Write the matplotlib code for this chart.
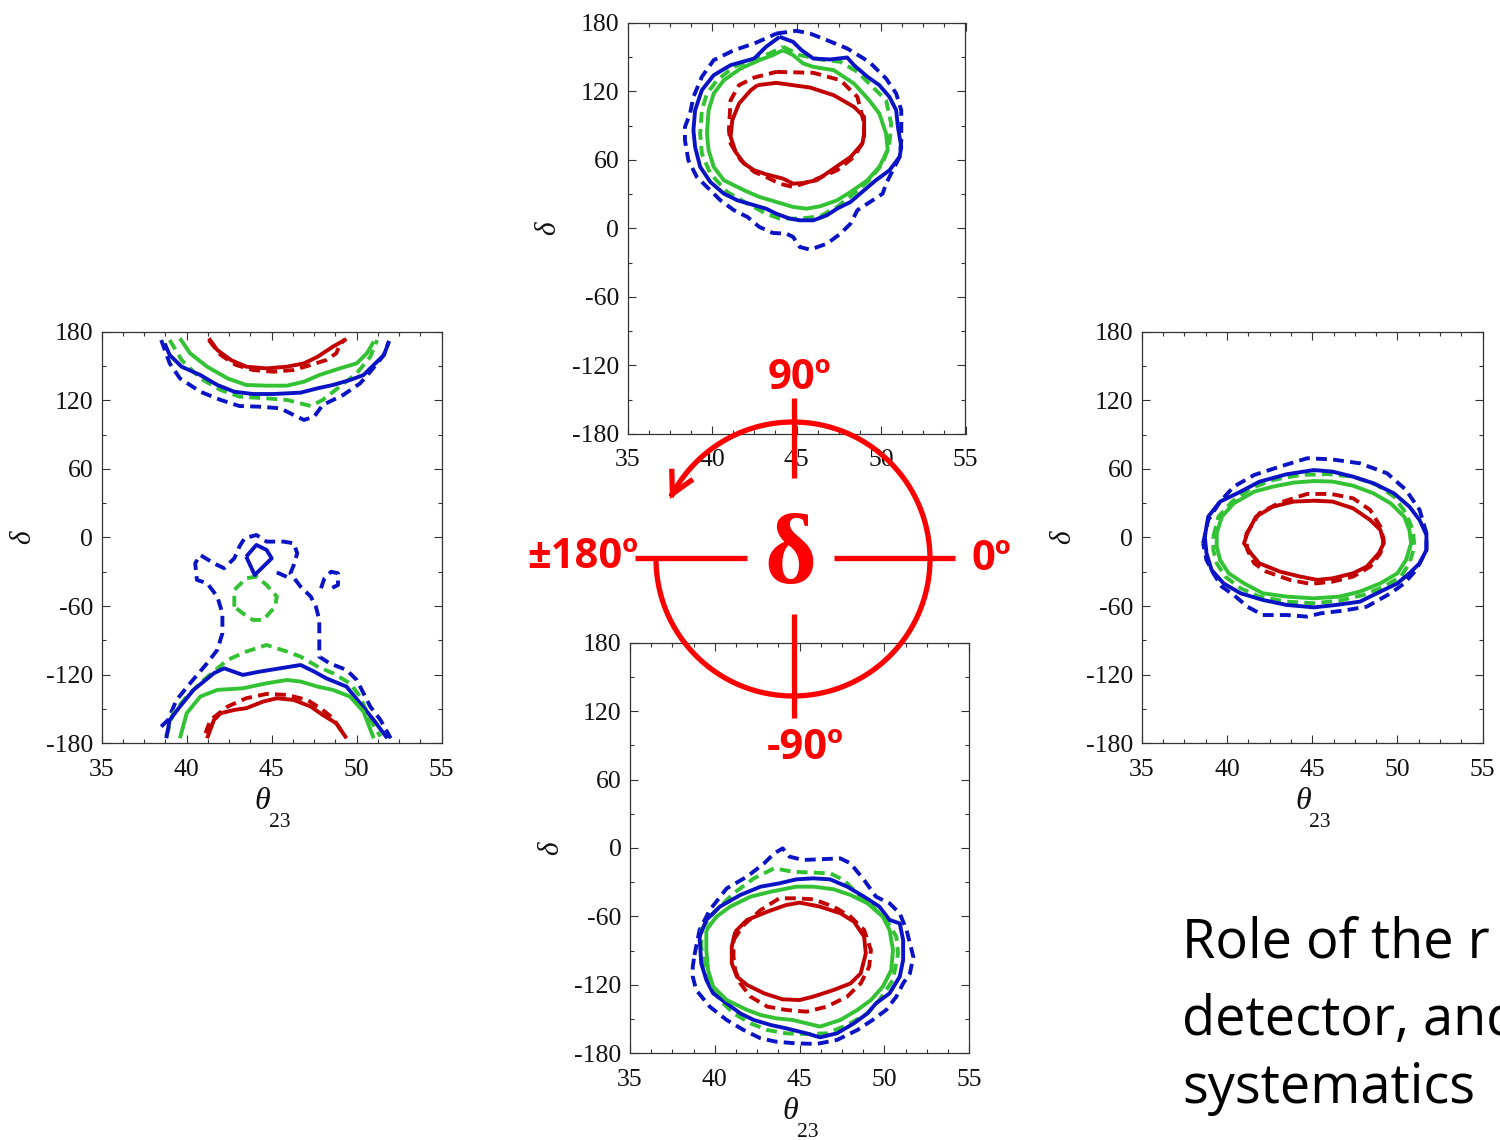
import numpy as np
import matplotlib
matplotlib.use("Agg")
import matplotlib.pyplot as plt
from matplotlib.ticker import MultipleLocator, FixedLocator
from matplotlib.patches import FancyArrowPatch
from matplotlib.path import Path
from matplotlib.transforms import offset_copy

plt.rcParams['font.family'] = ['Liberation Serif', 'DejaVu Serif']

BLUE = '#0a14c4'
GREEN = '#33c233'
RED = '#c20000'
BRIGHT = '#ff0000'
INK = '#111111'

x_ticks = [35, 40, 45, 50, 55]
y_ticks = [-180, -120, -60, 0, 60, 120, 180]

# ---- contour data: (theta23 [deg], delta [deg]) ----
# true delta = +90
top_red_solid = [(42.7, 125.4), (43.8, 127.4), (45.8, 123.3), (47.2, 116.6), (48.4, 106.4), (49.0, 97.6),
                 (49.0, 83.0), (48.9, 74.2), (48.2, 62.5), (47.2, 52.3), (46.2, 42.1), (45.4, 39.7),
                 (44.8, 39.1), (44.2, 43.5), (43.2, 47.3), (42.5, 50.8), (41.9, 56.7), (41.4, 66.9),
                 (41.1, 80.1), (41.2, 94.7), (41.6, 109.3), (42.3, 121.0)]
top_red_dash = [(43.8, 137.0), (46.0, 136.2), (47.6, 129.7), (48.6, 115.1), (49.0, 91.7), (49.0, 77.1),
                (48.4, 62.5), (47.4, 50.8), (46.0, 42.1), (44.8, 36.2), (44.0, 39.1), (43.2, 45.0),
                (42.5, 49.4), (41.7, 59.6), (41.1, 74.2), (41.0, 85.9), (41.1, 112.2), (41.6, 125.4),
                (42.5, 132.1)]
top_green_solid = [(44.2, 156.0), (44.8, 151.7), (45.4, 144.3), (46.0, 141.4), (47.2, 138.5), (48.4, 126.8),
                   (49.3, 112.2), (49.9, 100.5), (50.3, 83.0), (50.4, 68.4), (49.9, 53.8), (49.2, 42.1),
                   (48.2, 31.8), (47.4, 24.5), (46.4, 19.3), (45.6, 17.2), (44.8, 18.7), (43.8, 23.1),
                   (42.8, 27.5), (41.9, 33.3), (40.7, 42.1), (40.1, 53.8), (39.8, 68.4), (39.7, 83.0),
                   (39.8, 103.4), (40.1, 118.0), (40.7, 129.7), (41.7, 140.0), (42.8, 147.3), (43.6, 151.7)]
top_green_dash = [(44.2, 159.0), (45.2, 151.7), (46.4, 147.9), (47.6, 145.8), (48.6, 137.0), (49.5, 123.9),
                  (50.3, 112.2), (50.6, 91.7), (50.5, 74.2), (50.1, 56.7), (49.3, 42.1), (48.4, 30.4),
                  (47.4, 18.7), (46.4, 10.5), (45.2, 8.5), (44.0, 8.5), (43.2, 12.8), (42.1, 21.6),
                  (40.9, 31.8), (39.9, 47.9), (39.4, 65.4), (39.3, 83.0), (39.4, 103.4), (39.7, 118.0),
                  (40.3, 129.7), (41.3, 141.4), (42.5, 148.7), (43.4, 153.1)]
top_blue_solid = [(44.0, 167.7), (44.8, 163.3), (45.3, 156.0), (46.0, 148.7), (47.0, 147.9), (48.0, 149.6),
                  (48.4, 142.9), (49.2, 132.7), (49.9, 125.4), (50.5, 115.1), (50.9, 103.4), (51.0, 88.8),
                  (51.2, 71.3), (51.1, 62.5), (50.5, 50.8), (49.7, 42.1), (49.0, 33.3), (48.2, 23.1),
                  (47.4, 17.2), (46.8, 11.4), (46.0, 7.0), (45.2, 7.0), (44.6, 8.5), (43.8, 12.8),
                  (43.2, 17.2), (42.5, 20.2), (41.5, 24.5), (40.7, 30.4), (39.9, 40.6), (39.3, 53.8),
                  (39.0, 71.3), (38.9, 85.9), (39.0, 103.4), (39.4, 121.0), (40.1, 134.1), (41.1, 142.9),
                  (42.5, 148.7), (43.2, 159.0)]
top_blue_dash = [(43.8, 170.6), (45.0, 173.0), (45.8, 170.6), (46.8, 164.8), (48.0, 157.5), (49.3, 145.8),
                 (50.3, 131.2), (50.9, 118.0), (51.2, 103.4), (51.2, 77.1), (51.1, 62.5), (50.7, 50.8),
                 (50.3, 39.1), (50.1, 30.4), (49.5, 24.5), (49.2, 21.6), (48.6, 15.8), (48.2, 4.1),
                 (47.6, -4.7), (46.8, -13.5), (45.8, -18.7), (45.2, -16.4), (44.8, -7.6), (44.4, -4.7),
                 (43.6, -4.1), (42.8, 1.2), (42.1, 9.9), (41.3, 15.8), (40.5, 24.5), (39.9, 33.3),
                 (39.1, 45.0), (38.6, 59.6), (38.4, 77.1), (38.4, 88.8), (38.7, 100.5), (38.9, 115.1),
                 (39.4, 132.7), (40.1, 147.3), (41.3, 156.0), (42.5, 161.9), (43.4, 167.7)]

# true delta = 0
right_red_solid = [(41.2, 3.8), (41.7, 18.2), (42.7, 27.0), (43.9, 31.4), (45.1, 32.2), (46.2, 31.4),
                   (47.4, 25.5), (48.4, 15.3), (49.0, 6.6), (49.2, -5.1), (48.9, -13.8), (48.2, -25.5),
                   (47.4, -31.3), (46.2, -35.7), (45.3, -37.1), (44.3, -34.2), (43.1, -29.8), (41.9, -22.6),
                   (41.4, -13.8), (41.0, -5.1)]
right_red_dash = [(41.1, 2.3), (41.9, 21.2), (43.1, 30.5), (44.7, 38.1), (46.1, 38.1), (47.4, 34.3),
                  (48.4, 24.1), (49.0, 9.5), (49.2, -2.2), (49.0, -13.8), (48.4, -25.5), (47.4, -34.2),
                  (46.2, -38.6), (44.9, -40.6), (43.7, -37.1), (42.3, -29.8), (41.6, -22.6), (41.2, -10.9)]
right_green_solid = [(39.4, 3.8), (39.7, 18.2), (40.4, 29.9), (41.6, 40.1), (42.7, 44.5), (43.9, 48.0),
                     (45.1, 49.4), (46.2, 48.9), (47.4, 45.3), (48.6, 38.6), (49.6, 29.9), (50.4, 18.2),
                     (50.7, 6.6), (50.8, -5.1), (50.5, -19.7), (50.0, -31.3), (49.0, -40.1), (47.8, -47.3),
                     (46.6, -51.7), (45.1, -53.2), (43.5, -51.7), (42.1, -48.8), (41.0, -40.1), (40.1, -31.3),
                     (39.6, -19.7), (39.4, -8.0)]
right_green_dash = [(39.2, 0.8), (39.5, 18.2), (40.3, 31.4), (41.4, 43.0), (42.7, 50.3), (44.3, 54.7),
                    (45.9, 55.5), (47.4, 53.2), (48.8, 45.9), (49.8, 35.7), (50.5, 21.2), (50.9, 6.6),
                    (51.0, -8.0), (50.7, -22.6), (50.2, -34.2), (49.2, -43.0), (48.0, -50.3), (46.6, -55.2),
                    (45.1, -57.5), (43.5, -56.1), (41.9, -51.7), (40.8, -44.4), (39.9, -34.2), (39.4, -22.6),
                    (39.2, -11.0)]
right_blue_solid = [(38.7, 0.8), (38.9, 18.2), (39.6, 31.4), (40.8, 40.1), (41.9, 48.8), (43.5, 55.3),
                    (45.1, 59.0), (46.2, 57.6), (47.4, 53.2), (48.6, 47.4), (49.8, 38.6), (50.7, 27.0),
                    (51.3, 15.3), (51.7, 2.3), (51.7, -10.9), (51.3, -22.6), (50.7, -31.3), (50.0, -40.1),
                    (49.0, -47.3), (47.8, -56.1), (46.4, -59.0), (45.1, -61.1), (43.5, -59.0), (42.1, -54.6),
                    (40.8, -48.8), (39.8, -40.1), (39.1, -28.4), (38.8, -13.8)]
right_blue_dash = [(38.6, -5.1), (38.9, 15.3), (39.6, 31.4), (40.4, 44.5), (41.6, 54.7), (43.1, 62.0),
                   (44.7, 69.3), (46.1, 68.4), (47.8, 64.9), (49.4, 56.1), (50.5, 41.6), (51.3, 24.1),
                   (51.7, 3.8), (51.7, -10.9), (51.1, -28.4), (50.4, -40.1), (49.6, -48.8), (48.2, -60.5),
                   (46.8, -64.0), (45.5, -66.3), (44.7, -69.2), (43.5, -67.8), (42.1, -67.8), (41.2, -60.5),
                   (40.4, -50.3), (39.7, -43.0), (39.2, -31.3), (38.8, -19.7)]

# true delta = -90
bot_red_solid = [(41.2, -73.4), (41.9, -63.1), (43.1, -55.8), (44.2, -50.0), (45.0, -47.9), (46.2, -51.4),
                 (47.4, -57.2), (48.2, -64.6), (48.8, -77.7), (48.9, -92.4), (48.6, -109.9), (48.0, -118.7),
                 (47.0, -124.5), (45.8, -130.3), (45.0, -133.3), (44.0, -132.7), (42.9, -127.4),
                 (41.9, -120.1), (41.3, -112.8), (41.0, -101.1), (41.0, -86.5)]
bot_red_dash = [(41.1, -80.7), (41.7, -67.5), (42.7, -54.4), (43.8, -44.1), (44.8, -44.1), (45.8, -45.0),
                (47.0, -51.4), (48.0, -60.2), (48.8, -71.9), (49.2, -89.4), (49.1, -104.0), (48.6, -118.7),
                (47.8, -130.3), (46.6, -139.1), (45.4, -143.5), (44.2, -142.0), (43.1, -139.1),
                (42.1, -130.3), (41.5, -118.7), (41.2, -107.0), (41.1, -95.3)]
bot_green_solid = [(39.5, -71.9), (40.1, -60.2), (40.9, -51.4), (42.1, -42.7), (43.3, -38.3), (44.8, -33.9),
                   (45.8, -33.9), (47.0, -36.2), (48.0, -41.2), (49.0, -48.5), (49.9, -60.2), (50.3, -71.9),
                   (50.5, -89.4), (50.4, -107.0), (49.9, -121.6), (49.2, -133.3), (48.4, -142.0),
                   (47.4, -150.8), (46.2, -156.6), (45.4, -153.7), (44.6, -150.8), (43.6, -149.3),
                   (42.7, -146.4), (41.9, -142.0), (40.7, -133.3), (39.9, -121.6), (39.6, -107.0),
                   (39.5, -89.4)]
bot_green_dash = [(39.2, -71.9), (39.9, -57.3), (41.1, -39.8), (42.3, -26.6), (43.5, -17.8), (44.6, -20.8),
                  (45.8, -21.6), (46.8, -22.2), (47.6, -28.1), (48.4, -39.8), (49.3, -51.4), (50.1, -63.1),
                  (50.7, -77.7), (50.8, -92.4), (50.5, -115.7), (49.7, -133.3), (49.0, -145.0),
                  (47.8, -155.2), (46.6, -162.5), (45.4, -163.1), (44.2, -162.5), (43.1, -159.6),
                  (42.1, -153.7), (41.1, -145.0), (40.3, -133.3), (39.7, -118.7), (39.4, -104.0),
                  (39.2, -86.5)]
bot_blue_solid = [(39.1, -77.7), (39.5, -63.1), (40.3, -51.4), (41.5, -41.2), (42.7, -33.9), (43.8, -31.0),
                  (44.8, -27.5), (45.8, -26.6), (46.8, -27.5), (47.8, -33.9), (48.8, -42.7), (49.7, -51.4),
                  (50.3, -63.1), (50.9, -66.1), (51.1, -80.7), (51.1, -98.2), (50.9, -112.8),
                  (50.3, -127.4), (49.5, -136.2), (49.0, -145.0), (48.2, -153.7), (47.2, -162.5),
                  (46.2, -166.0), (45.4, -162.5), (44.2, -158.1), (43.3, -155.2), (42.3, -150.8),
                  (41.5, -145.0), (40.7, -136.2), (39.9, -127.4), (39.5, -115.7), (39.2, -101.1)]
bot_blue_dash = [(38.8, -93.8), (39.1, -71.9), (39.7, -54.4), (40.7, -35.4), (41.9, -25.1), (42.9, -13.5),
                 (43.5, -4.7), (44.0, -0.3), (44.4, -7.6), (45.2, -10.5), (46.2, -9.9), (47.4, -9.1),
                 (48.0, -13.5), (48.8, -28.1), (49.5, -42.7), (50.3, -48.5), (50.9, -57.3), (51.3, -71.9),
                 (51.7, -95.3), (51.5, -109.9), (51.1, -118.7), (50.7, -130.3), (50.1, -142.0),
                 (49.3, -150.8), (48.4, -159.6), (47.2, -168.3), (46.0, -171.8), (44.8, -171.3),
                 (43.6, -169.8), (42.7, -166.9), (41.7, -159.6), (40.7, -150.8), (39.7, -139.1),
                 (38.9, -124.5), (38.7, -112.8), (38.7, -104.0)]

# true delta = +/-180 (regions wrap around the edges, so these are open curves)
left_red_solid_hi = [(41.3, 174.2), (41.8, 164.0), (42.6, 155.2), (43.5, 149.4), (44.7, 147.9), (45.9, 149.4),
                     (46.9, 152.3), (47.7, 158.1), (48.6, 166.9), (49.4, 173.6)]
left_red_dash_hi = [(41.3, 172.7), (42.0, 159.6), (42.9, 150.9), (43.9, 146.5), (45.1, 145.0), (46.3, 146.5),
                    (47.3, 150.9), (48.2, 155.2), (48.8, 161.1), (49.0, 168.3), (49.3, 173.3)]
left_green_solid_hi = [(39.6, 174.2), (40.2, 161.1), (41.2, 149.4), (42.4, 139.2), (43.5, 133.4), (44.7, 132.8),
                       (45.9, 132.8), (46.9, 136.3), (47.8, 142.1), (49.0, 147.9), (50.0, 152.3), (50.6, 161.1),
                       (51.0, 171.3)]
left_green_dash_hi = [(39.0, 172.7), (39.7, 155.2), (40.8, 139.2), (42.0, 129.0), (43.1, 123.2), (44.7, 121.7),
                      (45.9, 120.3), (47.3, 115.0), (48.0, 120.3), (49.0, 131.9), (50.0, 143.6), (50.8, 158.1),
                      (51.2, 172.7)]
left_blue_solid_hi = [(38.7, 169.8), (39.0, 159.6), (39.7, 149.4), (40.8, 142.1), (41.8, 133.4), (42.8, 127.5),
                      (43.9, 125.5), (45.1, 125.5), (46.7, 126.7), (47.7, 130.5), (48.6, 133.4), (49.6, 137.7),
                      (50.4, 142.1), (51.0, 150.9), (51.6, 159.6), (51.9, 171.3)]
left_blue_dash_hi = [(38.5, 172.7), (39.0, 152.3), (39.6, 139.2), (40.8, 127.5), (42.0, 120.3), (43.1, 115.0),
                     (44.3, 114.4), (45.5, 113.0), (46.3, 107.1), (46.9, 102.8), (47.5, 105.7), (48.0, 115.9),
                     (49.2, 124.6), (50.2, 134.8), (50.8, 145.0), (51.6, 159.6), (51.9, 172.0)]
left_red_solid_lo = [(41.2, -175.6), (41.6, -159.6), (42.0, -153.7), (42.8, -150.8), (43.5, -149.3),
                     (44.5, -143.5), (45.3, -140.6), (46.3, -142.1), (47.3, -147.9), (48.0, -155.2),
                     (48.8, -162.5), (49.4, -175.6)]
left_red_dash_lo = [(41.1, -171.2), (41.4, -159.6), (42.4, -147.9), (43.5, -140.6), (44.7, -136.8),
                    (45.9, -137.7), (47.1, -142.1), (48.0, -150.8), (48.6, -158.1), (49.2, -171.2)]
left_green_solid_lo = [(39.6, -175.6), (40.0, -153.7), (40.8, -139.1), (41.8, -133.3), (43.3, -131.9),
                       (44.7, -127.5), (45.9, -124.6), (46.7, -126.0), (47.7, -130.4), (48.6, -133.3),
                       (49.6, -139.1), (50.4, -152.3), (51.0, -175.6)]
left_green_dash_lo = [(38.8, -174.1), (39.2, -153.7), (40.0, -139.1), (41.0, -124.6), (42.4, -107.1),
                      (43.5, -99.8), (44.7, -94.0), (45.9, -99.8), (46.7, -104.2), (47.7, -112.9),
                      (48.6, -118.7), (49.6, -127.5), (50.2, -139.1), (50.8, -159.6), (51.4, -174.1)]
left_green_dash_isle = [(42.8, -60.5), (42.8, -45.9), (43.5, -35.7), (44.1, -34.2), (44.7, -41.5),
                        (45.3, -51.7), (45.2, -60.5), (44.5, -72.1), (43.9, -72.1), (43.3, -66.3)]
left_blue_solid_lo = [(38.8, -175.6), (39.0, -159.6), (39.6, -147.9), (40.4, -133.3), (41.6, -118.7),
                      (42.2, -114.4), (43.3, -120.2), (44.3, -117.3), (45.5, -114.4), (46.7, -111.5),
                      (47.5, -117.3), (48.2, -123.1), (49.4, -130.4), (50.2, -145.0), (51.0, -159.6),
                      (51.8, -175.6)]
left_blue_solid_isle = [(43.5, -16.7), (44.1, -6.5), (44.7, -10.9), (45.0, -18.2), (44.5, -25.5), (44.0, -32.8)]
left_blue_dash_lo = [(38.5, -165.4), (38.9, -159.6), (39.4, -142.1), (40.2, -127.5), (41.2, -110.0),
                     (41.8, -98.3), (42.1, -83.8), (42.1, -66.3), (41.8, -51.7), (41.2, -40.0), (40.6, -37.1),
                     (40.5, -22.6), (40.8, -15.3), (41.6, -22.6), (42.2, -26.9), (42.8, -18.2), (43.1, -8.0),
                     (43.4, -0.7), (44.1, 2.2), (44.7, -3.6), (45.7, -3.6), (46.3, -5.1), (46.5, -13.8),
                     (46.3, -24.0), (46.1, -31.3), (46.7, -43.0), (47.3, -51.7), (47.6, -60.5), (47.8, -72.1),
                     (47.8, -92.5), (47.8, -104.2), (48.4, -110.0), (49.4, -115.8), (50.0, -124.6),
                     (50.4, -136.2), (50.8, -147.9), (51.4, -159.6), (52.0, -175.6)]
left_blue_dash_hook = [(45.3, -30.5), (45.9, -34.5), (46.1, -31.0)]
left_blue_dash_isle = [(47.9, -44.4), (48.1, -35.7), (48.5, -29.9), (48.9, -31.3), (48.9, -41.5), (48.4, -45.3)]

panels = {
    'top': dict(rect=[627.5, 22.8, 965.5, 433.8], xlabel=False, curves=[
        (top_blue_dash, BLUE, '--', True), (top_green_dash, GREEN, '--', True), (top_red_dash, RED, '--', True),
        (top_blue_solid, BLUE, '-', True), (top_green_solid, GREEN, '-', True), (top_red_solid, RED, '-', True)]),
    'left': dict(rect=[101.7, 331.7, 441.7, 743.3], xlabel=True, curves=[
        (left_blue_dash_hi, BLUE, '--', False), (left_blue_dash_lo, BLUE, '--', False),
        (left_blue_dash_hook, BLUE, '--', False), (left_blue_dash_isle, BLUE, '--', False),
        (left_green_dash_hi, GREEN, '--', False), (left_green_dash_lo, GREEN, '--', False),
        (left_green_dash_isle, GREEN, '--', True),
        (left_red_dash_hi, RED, '--', False), (left_red_dash_lo, RED, '--', False),
        (left_blue_solid_hi, BLUE, '-', False), (left_blue_solid_lo, BLUE, '-', False),
        (left_blue_solid_isle, BLUE, '-', True),
        (left_green_solid_hi, GREEN, '-', False), (left_green_solid_lo, GREEN, '-', False),
        (left_red_solid_hi, RED, '-', False), (left_red_solid_lo, RED, '-', False)]),
    'right': dict(rect=[1141.7, 331.7, 1482.7, 743.3], xlabel=True, curves=[
        (right_blue_dash, BLUE, '--', True), (right_green_dash, GREEN, '--', True), (right_red_dash, RED, '--', True),
        (right_blue_solid, BLUE, '-', True), (right_green_solid, GREEN, '-', True), (right_red_solid, RED, '-', True)]),
    'bottom': dict(rect=[630.0, 642.7, 969.3, 1053.3], xlabel=True, curves=[
        (bot_blue_dash, BLUE, '--', True), (bot_green_dash, GREEN, '--', True), (bot_red_dash, RED, '--', True),
        (bot_blue_solid, BLUE, '-', True), (bot_green_solid, GREEN, '-', True), (bot_red_solid, RED, '-', True)]),
}

W, H = 1500, 1140
fig = plt.figure(figsize=(W / 100, H / 100), dpi=100)
fig.patch.set_facecolor('white')

SERIF = ['Liberation Serif', 'DejaVu Serif']

for name, p in panels.items():
    x0, y0, x1, y1 = p['rect']
    ax = fig.add_axes([x0 / W, 1 - y1 / H, (x1 - x0) / W, (y1 - y0) / H])
    for pts, col, ls, closed in p['curves']:
        arr = np.array(pts)
        if closed:
            arr = np.vstack([arr, arr[:1]])
        line, = ax.plot(arr[:, 0], arr[:, 1], color=col, lw=2.8, solid_joinstyle='round',
                        solid_capstyle='butt')
        if ls == '--':
            line.set_dashes((2.8, 1.6))
    ax.set_xlim(35, 55)
    ax.set_ylim(-180, 180)
    ax.xaxis.set_major_locator(FixedLocator(x_ticks))
    ax.yaxis.set_major_locator(FixedLocator(y_ticks))
    ax.set_xticklabels([str(v) for v in x_ticks])
    ax.set_yticklabels([str(v) for v in y_ticks])
    ax.xaxis.set_minor_locator(MultipleLocator(1.25))
    ax.yaxis.set_minor_locator(MultipleLocator(30))
    ax.tick_params(which='both', direction='in', top=True, right=True, color='#333333', width=0.8)
    ax.tick_params(which='major', length=6, labelsize=18.5, labelcolor=INK)
    ax.tick_params(which='minor', length=3)
    ax.tick_params(axis='x', pad=11)
    ax.tick_params(axis='y', pad=6)
    for lbl in ax.get_xticklabels() + ax.get_yticklabels():
        lbl.set_family(SERIF)
    for s in ax.spines.values():
        s.set_color('#333333')
        s.set_linewidth(0.9)
    aw = x1 - x0
    ah = y1 - y0
    ax.text(-79 / aw, 0.5, 'δ', transform=ax.transAxes, rotation=90, style='italic',
            family=SERIF, ha='center', va='center', fontsize=21, color=INK)
    if p['xlabel']:
        t_theta = offset_copy(ax.transAxes, fig=fig, x=-9, y=-58, units='dots')
        ax.text(0.5, 0.0, 'θ', transform=t_theta, style='italic', family=SERIF,
                ha='center', va='center', fontsize=23, color=INK)
        t_sub = offset_copy(ax.transAxes, fig=fig, x=8, y=-84, units='dots')
        ax.text(0.5, 0.0, '23', transform=t_sub, family=SERIF, ha='center', va='baseline',
                fontsize=15.5, color=INK)

# ---- phase wheel drawn over the panels, in figure pixel units ----
ov = fig.add_axes([0, 0, 1, 1], zorder=10)
ov.set_xlim(0, W)
ov.set_ylim(H, 0)
ov.axis('off')
ov.patch.set_alpha(0)

cx, cy, r = 793, 559, 137
ang = np.radians(np.linspace(180, 514, 300))
arc = np.column_stack([cx + r * np.cos(ang), cy - r * np.sin(ang)])
wheel = FancyArrowPatch(path=Path(arc), arrowstyle='->,head_length=16,head_width=8.5',
                        mutation_scale=1, lw=3.8, color=BRIGHT, transform=ov.transData,
                        joinstyle='miter', capstyle='butt')
ov.add_patch(wheel)

lw_axis = 3.8
ov.plot([794, 794], [398, 478], color=BRIGHT, lw=lw_axis, solid_capstyle='butt')
ov.plot([794, 794], [614, 718], color=BRIGHT, lw=lw_axis, solid_capstyle='butt')
ov.plot([635, 747], [558, 558], color=BRIGHT, lw=lw_axis, solid_capstyle='butt')
ov.plot([834, 955], [558, 558], color=BRIGHT, lw=lw_axis, solid_capstyle='butt')

lab = dict(color=BRIGHT, fontsize=30, fontweight='bold', family=['Open Sans', 'DejaVu Sans'], va='baseline')
ov.text(799, 389, '90º', ha='center', **lab)
ov.text(583, 568, '±180º', ha='center', **lab)
ov.text(991, 570, '0º', ha='center', **lab)
ov.text(805, 759, '-90º', ha='center', **lab)
ov.text(790, 583, 'δ', ha='center', va='baseline', color=BRIGHT, fontsize=72, fontweight='bold',
        family=SERIF)

body = dict(color='black', fontsize=39, family=['Open Sans', 'DejaVu Sans'], va='baseline', ha='left')
ov.text(1182, 957, 'Role of the r', **body)
ov.text(1182, 1035, 'detector, and', **body)
ov.text(1182, 1103, 'systematics', **body)

fig.savefig('out.png', dpi=100)
